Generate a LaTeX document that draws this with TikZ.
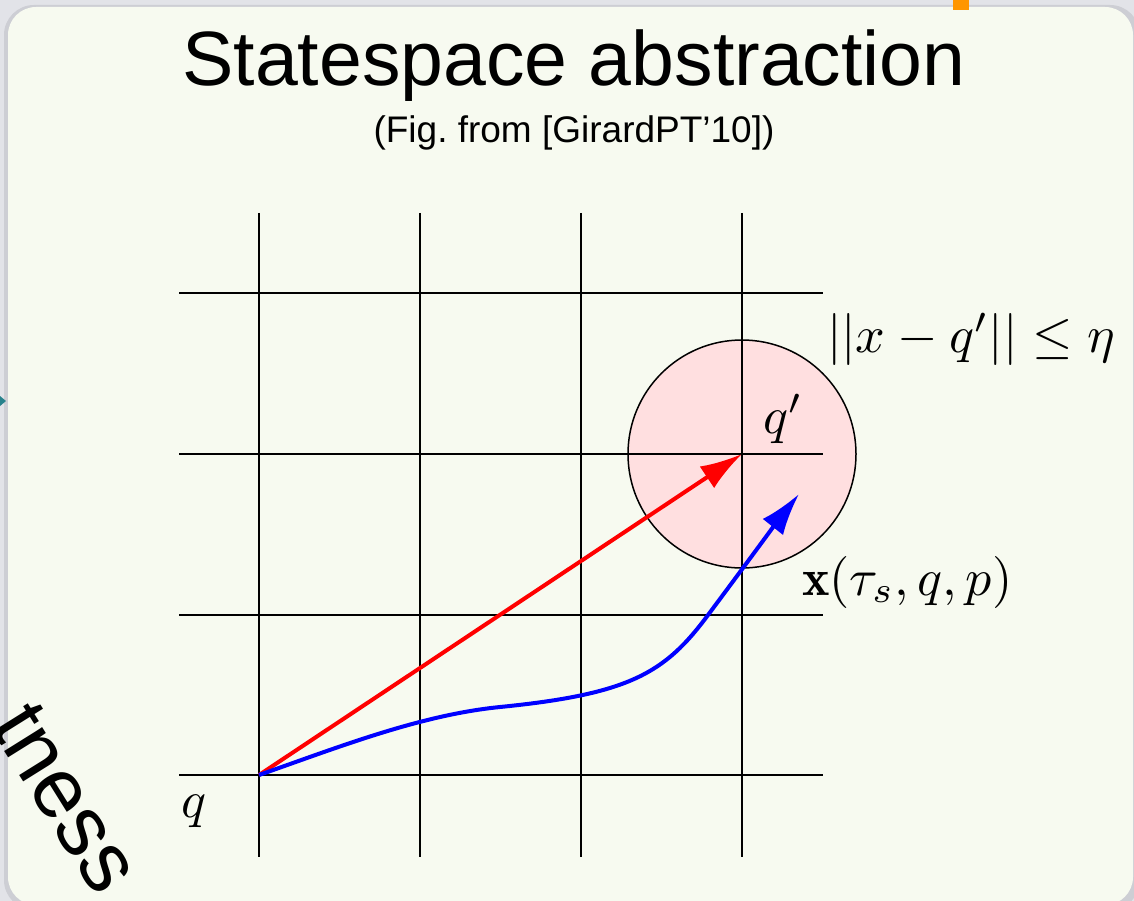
\documentclass[tikz,border=0pt]{standalone}
\usepackage{amsmath,amssymb}
\usepackage{fontspec}
\setsansfont{Liberation Sans}
\usetikzlibrary{arrows.meta}
\definecolor{slidebg}{RGB}{226,227,232}
\definecolor{panelshade}{RGB}{205,206,212}
\definecolor{panelfill}{RGB}{247,250,240}
\definecolor{ballfill}{RGB}{255,223,224}
\definecolor{steprd}{RGB}{255,0,0}
\definecolor{flowbl}{RGB}{0,0,255}
\definecolor{markor}{RGB}{255,150,0}
\definecolor{markte}{RGB}{40,130,140}
\tikzset{
  gridl/.style={black,line width=2pt},
  ttl/.style={font=\sffamily\fontsize{77}{90}\selectfont,anchor=base,inner sep=0pt},
  subttl/.style={font=\sffamily\fontsize{37}{44}\selectfont,anchor=base,inner sep=0pt},
  mlab/.style={font=\normalsize,scale=5.2,anchor=base west,inner sep=0pt},
  frag/.style={font=\sffamily\fontsize{85}{95}\selectfont,inner sep=0pt},
  bigtip/.style={-{Latex[length=42pt,width=26pt]},line width=4pt},
}
\begin{document}
\begin{tikzpicture}[x=1pt,y=-1pt]
  \useasboundingbox (0,0) rectangle (1134,901);
  \fill[slidebg] (0,0) rectangle (1134,901);
  \fill[panelshade,rounded corners=30pt] (4,5) rectangle (1140,910);
  \fill[panelfill,rounded corners=28pt] (8,7) rectangle (1133,905);
  \fill[markor] (953,0) rectangle (969,10);
  \fill[markte] (0,396) -- (6,401) -- (0,406) -- cycle;
  \node[ttl] (title) at (574,86) {Statespace abstraction};
  \node[subttl] (subtitle) at (574,143) {(Fig.\ from [GirardPT’10])};
  % ball around q'
  \filldraw[fill=ballfill,draw=black,line width=1.5pt] (742,454) circle (114);
  \draw[gridl] (259,213) -- (259,857);
  \draw[gridl] (420,213) -- (420,857);
  \draw[gridl] (581,213) -- (581,857);
  \draw[gridl] (742,213) -- (742,857);
  \draw[gridl] (179,293) -- (823,293);
  \draw[gridl] (179,454) -- (823,454);
  \draw[gridl] (179,615) -- (823,615);
  \draw[gridl] (179,775) -- (823,775);
  \coordinate (q) at (259,775);
  \coordinate (qp) at (742,454);
  \coordinate (xend) at (799,494);
  \draw[bigtip,steprd] (q) -- (qp);
  \draw[bigtip,flowbl] (q) .. controls (339,747) and (420,715) .. (500,707)
    .. controls (630,694) and (665,673) .. (708,615)
    .. controls (726,591) and (780,518) .. (xend);
  \node[mlab] (lq) at (180,817) {$q$};
  \node[mlab] (lqp) at (762,433) {$q'$};
  \node[mlab] (lball) at (826,352) {$||x-q'||\leq\eta$};
  \node[mlab] (lflow) at (801,595) {$\mathbf{x}(\tau_s,q,p)$};
  \node[frag,rotate=-58] (frag) at (66,798) {tness};
\end{tikzpicture}
\end{document}
